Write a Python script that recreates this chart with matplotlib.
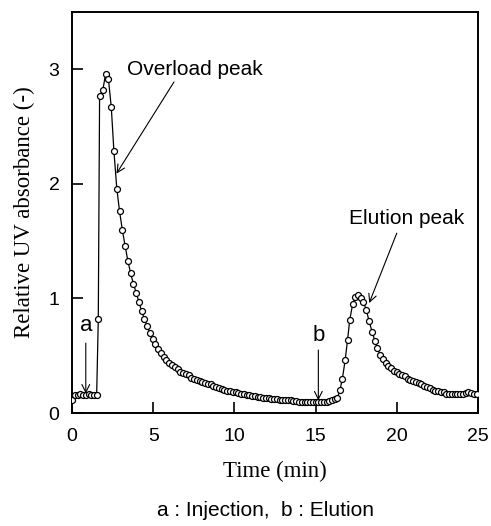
import matplotlib
matplotlib.use("Agg")
import matplotlib.pyplot as plt

# time (min) and relative UV absorbance
time_min = [
    0.00, 0.17, 0.34, 0.51, 0.68, 0.85, 1.02, 1.19, 1.36, 1.52,
    1.62, 1.70, 1.90, 2.07, 2.24, 2.42, 2.58, 2.76, 2.93, 3.10,
    3.27, 3.44, 3.61, 3.78, 3.95, 4.12, 4.29, 4.46, 4.63, 4.80,
    4.97, 5.14, 5.31, 5.48, 5.65, 5.82, 5.99, 6.16, 6.33, 6.50,
    6.67, 6.84, 7.01, 7.18, 7.35, 7.52, 7.69, 7.86, 8.03, 8.20,
    8.37, 8.54, 8.71, 8.88, 9.05, 9.22, 9.39, 9.56, 9.73, 9.90,
    10.07, 10.24, 10.41, 10.58, 10.75, 10.92, 11.09, 11.26, 11.43, 11.60,
    11.77, 11.94, 12.11, 12.28, 12.45, 12.62, 12.79, 12.96, 13.13, 13.30,
    13.47, 13.64, 13.81, 13.98, 14.15, 14.32, 14.49, 14.66, 14.83, 15.00,
    15.17, 15.34, 15.51, 15.68, 15.85, 16.02, 16.19, 16.34, 16.50, 16.65,
    16.82, 16.97, 17.10, 17.28, 17.45, 17.60, 17.78, 17.95, 18.12, 18.30,
    18.48, 18.65, 18.80, 18.97, 19.14, 19.31, 19.48, 19.65, 19.82, 19.99,
    20.16, 20.33, 20.50, 20.67, 20.84, 21.01, 21.18, 21.35, 21.52, 21.69,
    21.86, 22.03, 22.20, 22.37, 22.54, 22.71, 22.88, 23.05, 23.22, 23.39,
    23.56, 23.73, 23.90, 24.07, 24.24, 24.41, 24.58, 24.75, 24.92,
]
absorbance = [
    0.11, 0.16, 0.16, 0.17, 0.16, 0.16, 0.17, 0.16, 0.16, 0.16,
    0.82, 2.77, 2.82, 2.96, 2.92, 2.67, 2.29, 1.96, 1.76, 1.60,
    1.46, 1.33, 1.22, 1.13, 1.05, 0.97, 0.89, 0.82, 0.76, 0.70,
    0.65, 0.60, 0.56, 0.52, 0.49, 0.46, 0.44, 0.42, 0.40, 0.38,
    0.36, 0.35, 0.34, 0.33, 0.31, 0.30, 0.29, 0.28, 0.27, 0.26,
    0.255, 0.25, 0.24, 0.23, 0.22, 0.21, 0.20, 0.195, 0.19, 0.185,
    0.18, 0.175, 0.17, 0.165, 0.16, 0.155, 0.15, 0.145, 0.14, 0.14,
    0.135, 0.13, 0.13, 0.125, 0.12, 0.12, 0.115, 0.115, 0.11, 0.11,
    0.11, 0.105, 0.105, 0.10, 0.10, 0.10, 0.10, 0.10, 0.10, 0.10,
    0.10, 0.10, 0.10, 0.10, 0.105, 0.11, 0.12, 0.13, 0.20, 0.30,
    0.46, 0.64, 0.81, 0.95, 1.01, 1.03, 1.00, 0.97, 0.90, 0.80,
    0.71, 0.63, 0.57, 0.51, 0.47, 0.44, 0.41, 0.39, 0.37, 0.355,
    0.34, 0.33, 0.32, 0.30, 0.29, 0.28, 0.27, 0.26, 0.25, 0.24,
    0.23, 0.22, 0.20, 0.19, 0.19, 0.18, 0.18, 0.17, 0.17, 0.17,
    0.17, 0.17, 0.17, 0.17, 0.175, 0.18, 0.175, 0.17, 0.17,
]

x_ticks = [0, 5, 10, 15, 20, 25]
y_ticks = [0, 1, 2, 3]

sans = "Liberation Sans"
serif = "Liberation Serif"

fig = plt.figure(figsize=(4.91, 5.26), dpi=100)
ax = fig.add_axes([0.1466, 0.2148, 0.8269, 0.7622])

ax.plot(time_min, absorbance, color="black", linewidth=0.9,
        marker="o", markersize=4.3, markerfacecolor="white",
        markeredgecolor="black", markeredgewidth=0.9, zorder=3)

ax.set_xlim(0, 25)
ax.set_ylim(0, 3.5)
ax.set_xticks(x_ticks)
ax.set_yticks(y_ticks)
ax.tick_params(direction="in", length=8, width=1.2, top=False, right=False,
               labelsize=14)
ax.tick_params(axis="x", pad=11)
ax.tick_params(axis="y", pad=9)
for lab in ax.get_xticklabels() + ax.get_yticklabels():
    lab.set_fontfamily(sans)
for s in ax.spines.values():
    s.set_linewidth(1.4)

ax.set_xlabel("Time (min)", fontfamily=serif, fontsize=16.5, labelpad=11)
ax.set_ylabel("Relative UV absorbance (-)", fontfamily=serif, fontsize=16.5,
              labelpad=10)

arrow = dict(arrowstyle="->", color="black", linewidth=0.8,
             shrinkA=0, shrinkB=0, mutation_scale=14)
ax.text(3.4, 3.0, "Overload peak", fontfamily=sans, fontsize=15,
        va="center", ha="left")
ax.annotate("", xy=(2.74, 2.09), xytext=(6.28, 2.89), arrowprops=arrow)

ax.text(20.6, 1.70, "Elution peak", fontfamily=sans, fontsize=15,
        va="center", ha="center")
ax.annotate("", xy=(18.3, 0.96), xytext=(20.0, 1.57), arrowprops=arrow)

ax.text(0.85, 0.76, "a", fontfamily=sans, fontsize=16, ha="center", va="center")
ax.annotate("", xy=(0.85, 0.17), xytext=(0.85, 0.61), arrowprops=arrow)
ax.text(15.17, 0.68, "b", fontfamily=sans, fontsize=16, ha="center", va="center")
ax.annotate("", xy=(15.17, 0.11), xytext=(15.17, 0.55), arrowprops=arrow)

fig.text(0.54, 0.03, "a : Injection,  b : Elution", fontfamily=sans,
         fontsize=15, ha="center", va="center")

fig.savefig("out.png", dpi=100)
